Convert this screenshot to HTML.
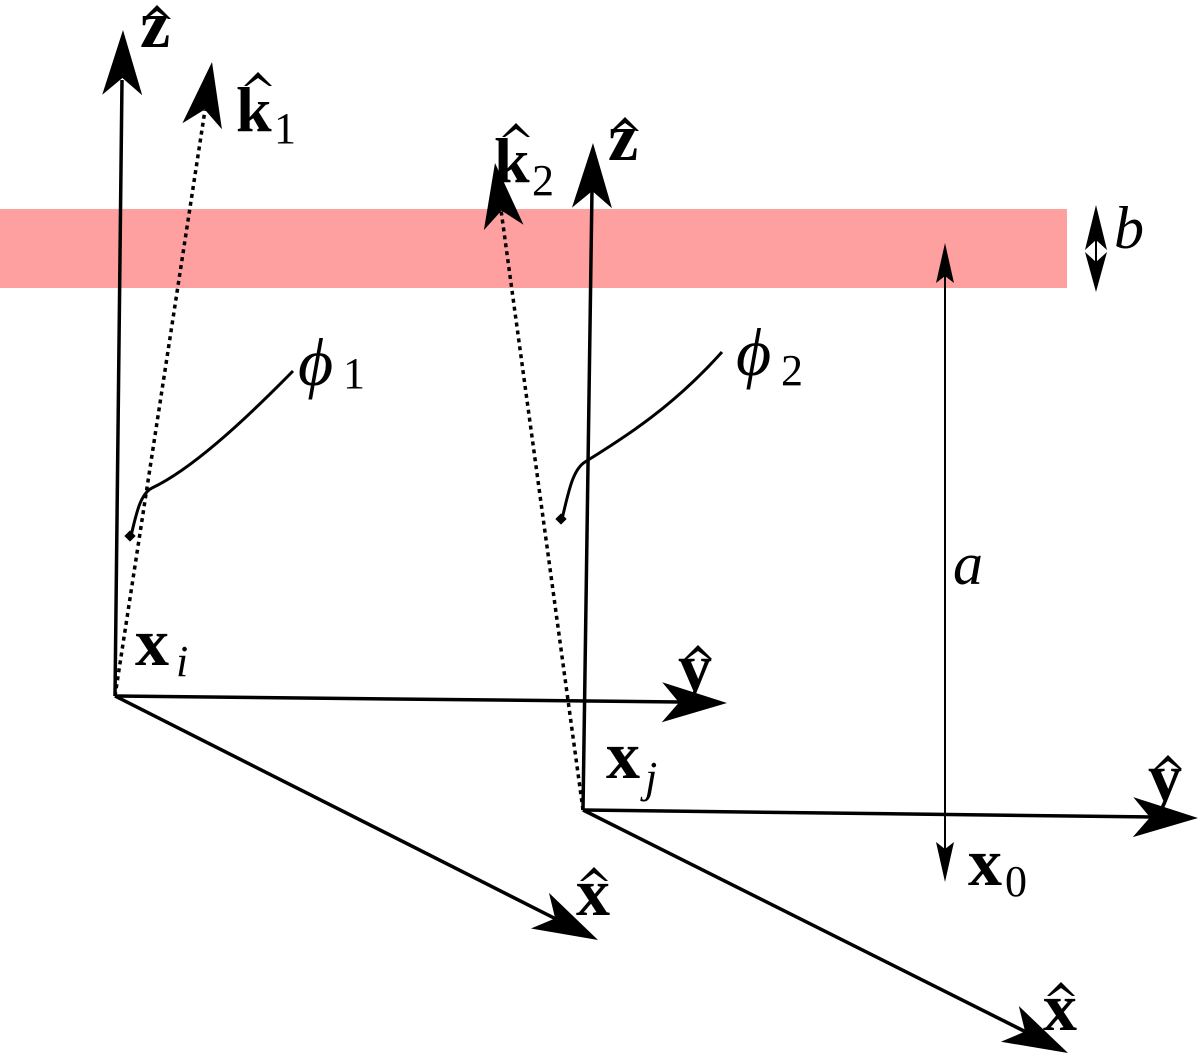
<!DOCTYPE html>
<html><head><meta charset="utf-8"><style>
html,body{margin:0;padding:0;background:#fff}
svg{display:block}
text{font-family:"Liberation Serif",serif;fill:#000}
.b{font-weight:bold}
.i{font-style:italic}
</style></head><body>
<svg width="1200" height="1056" viewBox="0 0 1200 1056" xmlns="http://www.w3.org/2000/svg">
<defs>
<path id="big" d="M0,0 L-65,-20 L-48,0 L-65,20 Z" fill="#000"/>
<path id="thin" d="M0,0 L-40,-9 L-33,0 L-40,9 Z" fill="#000"/>
<path id="hat" d="M-14,9 L0,-5 L14,9 L11,9 L0,1 L-11,9 Z" fill="#000"/>
</defs>
<rect x="0" y="209" width="1067" height="79" fill="#ffa0a0"/>

<g stroke="#000" stroke-width="3.5" fill="none">
<line x1="115" y1="696" x2="122" y2="80"/>
<line x1="115" y1="696" x2="680" y2="702"/>
<line x1="115" y1="696" x2="556" y2="919"/>
<line x1="583" y1="810" x2="592" y2="190"/>
<line x1="583" y1="810" x2="1150" y2="817"/>
<line x1="583" y1="810" x2="1026" y2="1032"/>
</g>
<g stroke="#000" stroke-width="3.5" stroke-dasharray="4,4" fill="none">
<line x1="115" y1="696" x2="205" y2="110"/>
<line x1="583" y1="810" x2="501" y2="210"/>
</g>
<use href="#big" transform="translate(123,30) rotate(-89.3)"/>
<use href="#big" transform="translate(727,703) rotate(0.66)"/>
<use href="#big" transform="translate(598,940) rotate(26.8)"/>
<use href="#big" transform="translate(212,62) rotate(-81.3)"/>
<use href="#big" transform="translate(593,143) rotate(-89.1)"/>
<use href="#big" transform="translate(1198,818) rotate(0.75)"/>
<use href="#big" transform="translate(1068,1053) rotate(26.6)"/>
<use href="#big" transform="translate(495,163) rotate(-97.7)"/>

<!-- a arrow -->
<line x1="945" y1="270" x2="945" y2="855" stroke="#000" stroke-width="2"/>
<use href="#thin" transform="translate(945,243) rotate(-90)"/>
<use href="#thin" transform="translate(945,882) rotate(90)"/>
<!-- b arrow -->
<line x1="1096" y1="235" x2="1096" y2="265" stroke="#000" stroke-width="2"/>
<path d="M1096,205 L1085,250 L1096,240 L1107,250 Z" fill="#000"/>
<path d="M1096,292 L1085,252 L1096,262 L1107,252 Z" fill="#000"/>

<!-- phi curves -->
<path d="M293,371 C240,425 190,470 152,488 C140,494 136,515 131,536" fill="none" stroke="#000" stroke-width="3"/>
<rect x="126" y="532" width="8" height="8" transform="rotate(45 130 536)" fill="#000"/>
<path d="M722,352 C670,410 620,440 585,462 C572,470 568,495 562,519" fill="none" stroke="#000" stroke-width="3"/>
<rect x="557" y="515" width="8" height="8" transform="rotate(45 561 519)" fill="#000"/>

<!-- labels -->
<text x="140" y="47" font-size="68" class="b">z</text><use href="#hat" transform="translate(157,10)"/>
<text x="236" y="131" font-size="64" class="b">k</text><use href="#hat" transform="translate(258,77)"/><text x="274" y="143" font-size="44">1</text>
<text x="494" y="182" font-size="64" class="b">k</text><use href="#hat" transform="translate(516,128)"/><text x="532" y="195" font-size="44">2</text>
<text x="608" y="160" font-size="68" class="b">z</text><use href="#hat" transform="translate(625,122)"/>
<text x="298" y="385" font-size="68" class="i">ϕ</text><text x="343" y="388" font-size="44">1</text>
<text x="736" y="375" font-size="68" class="i">ϕ</text><text x="781" y="385" font-size="44">2</text>
<text x="1114" y="248" font-size="60" class="i">b</text>
<text x="953" y="584" font-size="60" class="i">a</text>
<text x="135" y="665" font-size="68" class="b">x</text><text x="176" y="676" font-size="44" class="i">i</text>
<text x="678" y="690" font-size="68" class="b">y</text><use href="#hat" transform="translate(698,650)"/>
<text x="606" y="778" font-size="68" class="b">x</text><text x="645" y="792" font-size="44" class="i">j</text>
<text x="1148" y="800" font-size="68" class="b">y</text><use href="#hat" transform="translate(1168,760)"/>
<text x="968" y="885" font-size="68" class="b">x</text><text x="1005" y="896" font-size="44">0</text>
<text x="576" y="915" font-size="68" class="b">x</text><use href="#hat" transform="translate(594,872)"/>
<text x="1043" y="1030" font-size="68" class="b">x</text><use href="#hat" transform="translate(1061,987)"/>
</svg>
</body></html>
